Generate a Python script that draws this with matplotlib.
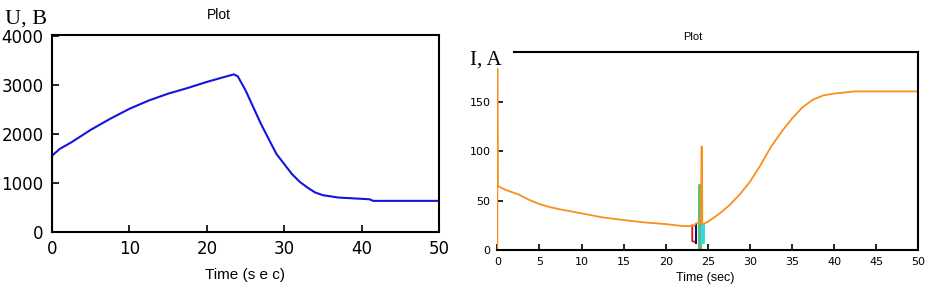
import matplotlib
matplotlib.use("Agg")
import matplotlib.pyplot as plt

# left plot: voltage
u_time = [0, 0, 1, 2.5, 5, 7.5, 10, 12.5, 15, 17.5, 20, 22, 23.5, 24, 25, 26, 27, 28,
          29, 30, 31, 32, 33, 34, 35, 37, 41, 41.5, 50]
u_volt = [0, 1560, 1700, 1835, 2090, 2315, 2520, 2690, 2830, 2945, 3070, 3160, 3225, 3185,
          2900, 2555, 2210, 1900, 1595, 1390, 1185, 1027, 910, 808, 753, 705, 670, 637, 637]

# right plot: current (main orange trace)
i_time = [0, 0, 0.05, 1, 2.5, 3.75, 5, 6.25, 7.5, 10, 12.5, 15, 17.5, 20, 22, 23.3, 23.6,
          24.2, 24.25, 24.3, 24.35, 24.5, 25, 26.25, 27.5, 28.75, 30, 31.25, 32.5, 33.75,
          35, 36.25, 37.5, 38.75, 40, 42.5, 50]
i_amp = [0, 184, 65, 61, 56.4, 51, 46.6, 43.5, 41.2, 37.2, 33.1, 30.4, 28.0, 26.3, 24.3,
         24.3, 27, 28, 105, 105, 26, 26.3, 28.7, 36, 44.9, 56, 69.2, 86, 104.7, 120,
         133.4, 145, 152.7, 157, 158.8, 161, 161]

# switching transients (other phases)
red_t = [23.15, 23.15, 23.6, 23.6]
red_i = [25, 9, 8, 7]
navy_t = [23.65, 23.65]
navy_i = [26, 7]
green_t = [24.0, 24.0, 24.1, 24.1]
green_i = [0, 66, 66, 0]
magenta_t = [23.95, 23.95]
magenta_i = [48, 2]
cyan_t = [24.3, 24.3, 24.45, 24.45]
cyan_i = [26, 8, 8, 26]

fig = plt.figure(figsize=(9.27, 2.91), dpi=100)

ax1 = fig.add_axes([0.0561, 0.2027, 0.4175, 0.677])
ax1.plot(u_time, u_volt, color="#1414dc", lw=1.5)
ax1.set_xlim(0, 50)
ax1.set_ylim(0, 4030)
ax1.set_xticks([0, 10, 20, 30, 40, 50])
ax1.set_yticks([0, 1000, 2000, 3000, 4000])
ax1.tick_params(direction="in", length=5, width=1.2, labelsize=12, pad=6)
for s in ax1.spines.values():
    s.set_linewidth(1.5)
fig.text(0.236, 0.948, "Plot", ha="center", va="center", fontsize=10, family="Liberation Sans")
fig.text(0.005, 0.935, "U, B", ha="left", va="center", fontsize=16, family="Liberation Serif")
fig.text(0.264, 0.055, "Time (s e c)", ha="center", va="center", fontsize=11, family="Liberation Sans")

ax2 = fig.add_axes([0.5365, 0.1409, 0.4541, 0.6804])
ax2.plot(red_t, red_i, color="#e01010", lw=1.3)
ax2.plot(navy_t, navy_i, color="#101070", lw=1.5)
ax2.plot(magenta_t, magenta_i, color="#d030d0", lw=1.8)
ax2.plot(green_t, green_i, color="#60c070", lw=2.2)
ax2.plot(cyan_t, cyan_i, color="#30d8f0", lw=2.2)
ax2.plot(i_time, i_amp, color="#f7901e", lw=1.3)
ax2.set_xlim(0, 50)
ax2.set_ylim(0, 201)
ax2.set_xticks(range(0, 51, 5))
ax2.set_yticks([0, 50, 100, 150])
ax2.tick_params(direction="in", length=4, width=1.2, labelsize=8, pad=5)
ax2.spines["left"].set_visible(False)
for s in ax2.spines.values():
    s.set_linewidth(1.5)
ax2.spines["top"].set_bounds(2, 50)
fig.text(0.747, 0.873, "Plot", ha="center", va="center", fontsize=8, family="Liberation Sans")
fig.text(0.507, 0.795, "I, A", ha="left", va="center", fontsize=15, family="Liberation Serif")
fig.text(0.761, 0.045, "Time (sec)", ha="center", va="center", fontsize=9, family="Liberation Sans")

fig.savefig("out.png", dpi=100)
